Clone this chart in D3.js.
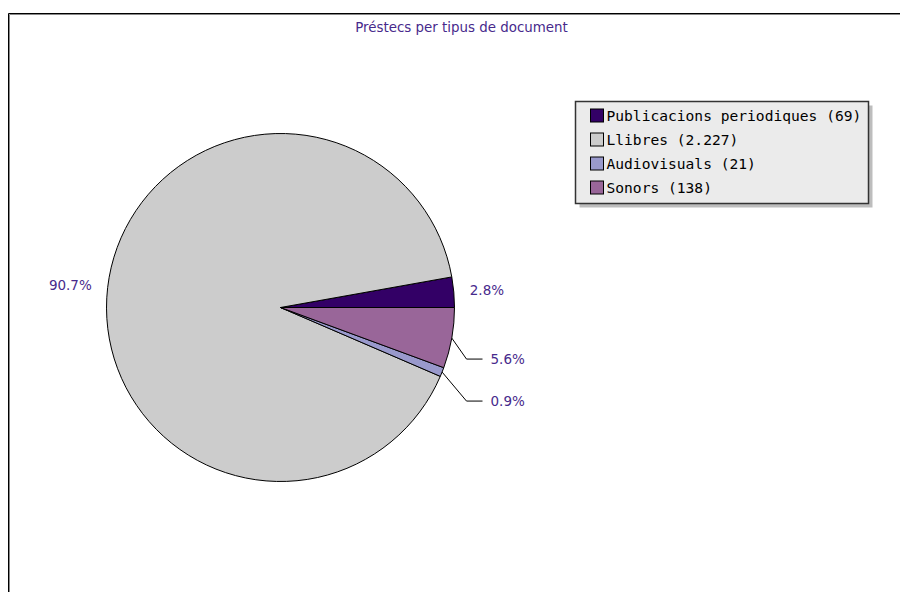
<!DOCTYPE html>
<html>
<head>
<meta charset="utf-8">
<script src="https://cdn.jsdelivr.net/npm/d3@7"></script>
<style>
  body { margin: 0; background: #fff; }
  svg { display: block; }
</style>
</head>
<body>
<svg id="chart" width="900" height="592"></svg>
<script>
const title = 'Préstecs per tipus de document'
const categories = ['Publicacions periodiques', 'Llibres', 'Audiovisuals', 'Sonors']
const counts = [69, 2227, 21, 138]
const countLabels = ['69', '2.227', '21', '138']
const colors = ['#330066', '#cccccc', '#9999cc', '#996699']

const textColor = '#472a8c'
const width = 900
const height = 592

const svg = d3.select('#chart')

// frame: black line with a grey inner line, open to the right and bottom
svg.append('path')
  .attr('d', `M8.5,${height} V13.5 H${width}`)
  .attr('fill', 'none').attr('stroke', '#000').attr('stroke-width', 1)
svg.append('path')
  .attr('d', `M9.5,${height} V14.5 H${width}`)
  .attr('fill', 'none').attr('stroke', '#888').attr('stroke-width', 1)

svg.append('text')
  .attr('x', 461.5)
  .attr('y', 31.5)
  .attr('text-anchor', 'middle')
  .style('font-family', 'DejaVu Sans')
  .style('font-size', '13.4px')
  .style('fill', textColor)
  .text(title)

// pie
const cx = 280.5
const cy = 307.5
const radius = 174
const total = d3.sum(counts)

const pie = d3.pie()
  .sort(null)
  .value(d => d.value)
  .startAngle(Math.PI / 2)
  .endAngle(Math.PI / 2 - 2 * Math.PI)

const slices = pie(categories.map((c, i) => ({ name: c, value: counts[i], color: colors[i] })))

const arc = d3.arc().innerRadius(0).outerRadius(radius)

const g = svg.append('g').attr('transform', `translate(${cx},${cy})`)

g.selectAll('path.slice')
  .data(slices)
  .enter()
  .append('path')
  .attr('class', 'slice')
  .attr('d', arc)
  .attr('fill', d => d.data.color)
  .attr('stroke', '#000')
  .attr('stroke-width', 1)

// labels
const pct = d3.format('.1f')
const polar = (angle, r) => [Math.sin(angle) * r, -Math.cos(angle) * r]

const labels = slices.map(d => {
  const mid = (d.startAngle + d.endAngle) / 2
  const share = d.value / total
  const [ex, ey] = polar(mid, radius)
  const [lx, ly] = polar(mid, radius + 16)
  return { d, mid, share, ex, ey, lx, ly, text: pct(share * 100) + '%' }
})

// small slices below the centre get a leader line, pushed down so they don't overlap
const leaders = labels.filter(l => l.share < 0.1 && l.ey > 0).sort((a, b) => a.ey - b.ey)
let lastY = -Infinity
leaders.forEach(l => {
  l.leader = true
  l.ty = Math.max(l.ey + 21, lastY + 42)
  lastY = l.ty
})

const elbowX = radius + 12

labels.forEach(l => {
  if (l.leader) {
    g.append('polyline')
      .attr('points', [[l.ex, l.ey], [elbowX, l.ty], [elbowX + 16, l.ty]].map(p => p.join(',')).join(' '))
      .attr('fill', 'none')
      .attr('stroke', '#000')
      .attr('stroke-width', 1)
    g.append('text')
      .attr('x', elbowX + 24)
      .attr('y', l.ty)
      .attr('dy', '0.35em')
      .style('font-family', 'DejaVu Sans')
      .style('font-size', '13.5px')
      .style('fill', textColor)
      .text(l.text)
  } else {
    g.append('text')
      .attr('x', l.lx)
      .attr('y', l.ly)
      .attr('dy', '0.35em')
      .attr('text-anchor', l.lx > 0 ? 'start' : 'end')
      .style('font-family', 'DejaVu Sans')
      .style('font-size', '13.5px')
      .style('fill', textColor)
      .text(l.text)
  }
})

// legend
const legend = svg.append('g').attr('transform', 'translate(575.5,101.5)')
const legendW = 293
const legendH = 102

legend.append('rect')
  .attr('x', 4).attr('y', 4)
  .attr('width', legendW).attr('height', legendH)
  .attr('fill', '#bdbdbd')
legend.append('rect')
  .attr('width', legendW).attr('height', legendH)
  .attr('fill', '#ebebeb')
  .attr('stroke', '#333')
  .attr('stroke-width', 1.5)

const rows = legend.selectAll('g.row')
  .data(categories)
  .enter()
  .append('g')
  .attr('class', 'row')
  .attr('transform', (d, i) => `translate(15,${14.5 + i * 24})`)

rows.append('rect')
  .attr('x', 0).attr('y', -7)
  .attr('width', 13).attr('height', 13)
  .attr('fill', (d, i) => colors[i])
  .attr('stroke', '#000')
  .attr('stroke-width', 1)

rows.append('text')
  .attr('x', 16)
  .attr('y', 0)
  .attr('dy', '0.35em')
  .style('font-family', 'DejaVu Sans Mono')
  .style('font-size', '14.6px')
  .style('fill', '#000')
  .text((d, i) => `${d} (${countLabels[i]})`)
</script>
</body>
</html>
